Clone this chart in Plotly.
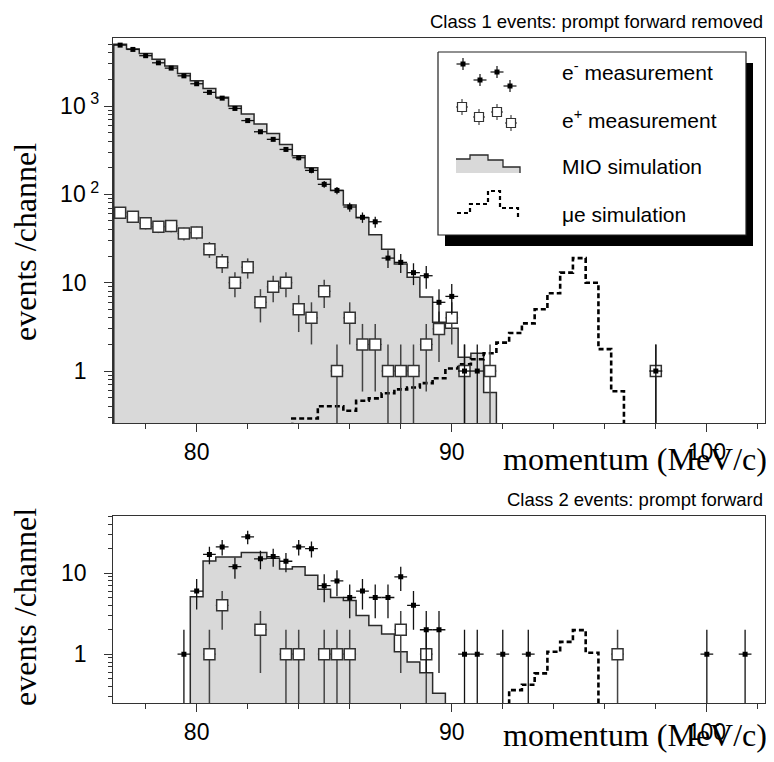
import math
import plotly.graph_objects as go

BIN = 0.5          # channel width, MeV/c
FLOOR = 0.01       # below the visible log range (closes the step outlines)

# ---------------- Class 1 (top panel) ----------------
top_mio_first = 77.0
top_mio = [5000, 4420, 3950, 3400, 2840, 2345, 1935, 1585, 1255, 1005,
           812, 625, 490, 368, 274, 200, 148, 111, 76, 54.5,
           35, 24, 16.3, 11.5, 6.9, 3.56, 3.05, 1.43, 1.59, 0.57]
top_mue_first = 84.0
top_mue = [0.29, 0.29, 0.40, 0.40, 0.355, 0.46, 0.49, 0.56, 0.62, 0.65,
           0.73, 0.83, 1.07, 1.19, 1.36, 1.59, 2.1, 2.7, 3.46, 5.0,
           7.6, 13, 19, 10, 1.77, 0.59]
top_em_x = [77.0, 77.5, 78.0, 78.5, 79.0, 79.5, 80.0, 80.5, 81.0, 81.5,
            82.0, 82.5, 83.0, 83.5, 84.0, 84.5, 85.0, 85.5, 86.0, 86.5,
            87.0, 87.5, 88.0, 88.5, 89.0, 89.5, 90.0, 90.5, 91.0, 98.0]
top_em_y = [4900, 4380, 3720, 3090, 2690, 2200, 1790, 1430, 1230, 940,
            685, 512, 420, 323, 260, 187, 130, 111, 72, 55,
            49, 19, 17, 13, 12, 6, 7, 1, 1, 1]
top_ep_x = [77.0, 77.5, 78.0, 78.5, 79.0, 79.5, 80.0, 80.5, 81.0, 81.5,
            82.0, 82.5, 83.0, 83.5, 84.0, 84.5, 85.0, 85.5, 86.0, 86.5,
            87.0, 87.5, 88.0, 88.5, 89.0, 89.5, 90.0, 90.5, 91.5, 98.0]
top_ep_y = [62, 56, 47, 43, 44, 36, 37, 24, 17, 10,
            15, 6, 9, 10, 5, 4, 8, 1, 4, 2,
            2, 1, 1, 1, 2, 3, 4, 1, 1, 1]

# ---------------- Class 2 (bottom panel) ----------------
bot_mio_first = 80.0
bot_mio = [5.1, 14.1, 15.8, 15.8, 18, 18, 15.2, 11.2, 12, 9.4,
           6.3, 5.0, 4.6, 3.0, 2.26, 1.77, 1.07, 0.8, 0.59, 0.33]
bot_mue_first = 92.5
bot_mue = [0.36, 0.42, 0.58, 1.07, 1.42, 1.98, 1.04]
bot_em_x = [79.5, 80.0, 80.5, 81.0, 81.5, 82.0, 82.5, 83.0, 83.5, 84.0,
            84.5, 85.0, 85.5, 86.0, 86.5, 87.0, 87.5, 88.0, 88.5, 89.0,
            89.5, 90.5, 91.0, 92.0, 93.0, 100.0, 101.5]
bot_em_y = [1, 6, 17, 21, 12, 28, 15, 16, 14, 21,
            20, 7, 8, 5, 6, 5, 5, 9, 4, 2,
            2, 1, 1, 1, 1, 1, 1]
bot_ep_x = [80.5, 81.0, 82.5, 83.5, 84.0, 85.0, 85.5, 86.0, 88.0, 89.0, 96.5]
bot_ep_y = [1, 4, 2, 1, 1, 1, 1, 1, 2, 1, 1]

# ---------------- axis ticks ----------------
x_major = [80, 90, 100]
x_major_text = ["80", "90", "100"]
x_minor = [78, 82, 84, 86, 88, 92, 94, 96, 98, 102]
top_y_major = [1, 10, 100, 1000]
top_y_text = ["1\u00a0\u00a0", "10\u00a0\u00a0", "10\u2009<sup>2</sup>", "10\u2009<sup>3</sup>"]
bot_y_major = [1, 10]
bot_y_text = ["1\u00a0\u00a0", "10\u00a0\u00a0"]

# texts
leg_labels = ["e<sup>-</sup> measurement", "e<sup>+</sup> measurement",
              "MIO simulation", "\u03bce simulation"]
title_top = "Class 1 events: prompt forward removed"
title_bot = "Class 2 events: prompt forward"
x_title = "momentum (MeV/c)"
y_title = "events /channel"

SERIF = "Liberation Serif"
SANS = "Liberation Sans"
FILL = "#d9d9d9"
LINE = "#2a2a2a"

# geometry: the page body has an 8px margin, so the figure is drawn 8px smaller
BODY = 8
W, H = 774 - BODY, 762 - BODY
ML, MR, MT, MB = 113 - BODY, 9, 38 - BODY, 59
PW, PH = W - ML - MR, H - MT - MB
PAGE_L, PAGE_R, PAGE_T, PAGE_B = ML + BODY, ML + BODY + PW, MT + BODY, MT + BODY + PH


def px(xp):        # page pixel -> paper fraction
    return (xp - PAGE_L) / PW


def py(yp):
    return (PAGE_B - yp) / PH


def step_xy(first_center, values):
    edges = [first_center - BIN / 2 + BIN * i for i in range(len(values) + 1)]
    xs = [edges[0]] + edges[:-1] + [edges[-1], edges[-1]]
    ys = [FLOOR] + list(values) + [values[-1], FLOOR]
    return xs, ys


def pois(vals):
    plus = [math.sqrt(v) for v in vals]
    minus = [min(math.sqrt(v), v - 0.001) for v in vals]
    return plus, minus


def minor_log(lo, hi):
    out = []
    for d in range(-1, 4):
        for m in range(2, 10):
            v = m * 10 ** d
            if lo <= v <= hi:
                out.append(v)
    return out


fig = go.Figure()


def add_panel(xa, ya, mio_first, mio, mue_first, mue, em_x, em_y, ep_x, ep_y):
    mx, my = step_xy(mio_first, mio)
    fig.add_trace(go.Scatter(x=mx, y=my, mode="lines", line_shape="hv",
                             fill="toself", fillcolor=FILL,
                             line=dict(color=LINE, width=1.5),
                             xaxis=xa, yaxis=ya, showlegend=False, hoverinfo="skip"))
    ux, uy = step_xy(mue_first, mue)
    fig.add_trace(go.Scatter(x=ux, y=uy, mode="lines", line_shape="hv",
                             line=dict(color="black", width=2.6, dash="5px,3px"),
                             xaxis=xa, yaxis=ya, showlegend=False, hoverinfo="skip"))
    p, m = pois(ep_y)
    fig.add_trace(go.Scatter(x=ep_x, y=ep_y, mode="markers",
                             marker=dict(symbol="square", size=11, color="white",
                                         line=dict(color="#333", width=1.5)),
                             error_y=dict(type="data", array=p, arrayminus=m,
                                          color="#444", thickness=1.5, width=0),
                             error_x=dict(type="constant", value=BIN / 2,
                                          color="#444", thickness=1.2, width=0),
                             xaxis=xa, yaxis=ya, showlegend=False))
    p, m = pois(em_y)
    fig.add_trace(go.Scatter(x=em_x, y=em_y, mode="markers",
                             marker=dict(symbol="square", size=5, color="black"),
                             error_y=dict(type="data", array=p, arrayminus=m,
                                          color="#111", thickness=1.3, width=0),
                             error_x=dict(type="constant", value=BIN / 2,
                                          color="#111", thickness=1.3, width=0),
                             xaxis=xa, yaxis=ya, showlegend=False))


add_panel("x", "y", top_mio_first, top_mio, top_mue_first, top_mue,
          top_em_x, top_em_y, top_ep_x, top_ep_y)
add_panel("x2", "y2", bot_mio_first, bot_mio, bot_mue_first, bot_mue,
          bot_em_x, bot_em_y, bot_ep_x, bot_ep_y)

# ---------------- legend (drawn in a page-pixel overlay axis) ----------------
box = dict(x0=438, x1=746, y0=52, y1=235)
shadow = dict(dx=7, dy=11)
sx0, sx1 = box["x0"] + shadow["dx"], box["x1"] + shadow["dx"]
sy0, sy1 = box["y0"] + shadow["dy"], box["y1"] + shadow["dy"]
fig.add_trace(go.Scatter(
    x=[sx0, sx1, sx1, sx0, sx0], y=[sy0, sy0, sy1, sy1, sy0],
    mode="lines", fill="toself", fillcolor="black", line=dict(color="black", width=0),
    xaxis="x3", yaxis="y3", showlegend=False, hoverinfo="skip"))
fig.add_trace(go.Scatter(
    x=[box["x0"], box["x1"], box["x1"], box["x0"], box["x0"]],
    y=[box["y0"], box["y0"], box["y1"], box["y1"], box["y0"]],
    mode="lines", fill="toself", fillcolor="white", line=dict(color="#222", width=1.2),
    xaxis="x3", yaxis="y3", showlegend=False, hoverinfo="skip"))
# MIO icon
fig.add_trace(go.Scatter(x=[456, 456, 470, 470, 488, 488, 503, 503, 520, 520, 456],
                         y=[173, 159, 159, 155, 155, 160, 160, 167, 167, 173, 173],
                         mode="lines", fill="toself", fillcolor=FILL, line=dict(width=0),
                         xaxis="x3", yaxis="y3", showlegend=False, hoverinfo="skip"))
fig.add_trace(go.Scatter(x=[456, 470, 470, 488, 488, 503, 503, 520, 520],
                         y=[159, 159, 155, 155, 160, 160, 167, 167, 173],
                         mode="lines", line=dict(color=LINE, width=1.3),
                         xaxis="x3", yaxis="y3", showlegend=False, hoverinfo="skip"))
# mu-e icon
fig.add_trace(go.Scatter(x=[457, 470, 470, 488, 488, 500, 500, 518, 518],
                         y=[213, 213, 204, 204, 191, 191, 208, 208, 220],
                         mode="lines", line=dict(color="black", width=2.2, dash="4px,3px"),
                         xaxis="x3", yaxis="y3", showlegend=False, hoverinfo="skip"))
# e+ icon
fig.add_trace(go.Scatter(x=[462, 479, 497, 511], y=[107, 117, 112, 123], mode="markers",
                         marker=dict(symbol="square", size=9, color="white",
                                     line=dict(color="#333", width=1.2)),
                         error_y=dict(type="constant", value=8, color="#444", thickness=1.2, width=0),
                         error_x=dict(type="constant", value=6, color="#444", thickness=1.2, width=0),
                         xaxis="x3", yaxis="y3", showlegend=False, hoverinfo="skip"))
# e- icon
fig.add_trace(go.Scatter(x=[463, 480, 497, 510], y=[64, 80, 72, 86], mode="markers",
                         marker=dict(symbol="square", size=5, color="black"),
                         error_y=dict(type="constant", value=6, color="#111", thickness=1.2, width=0),
                         error_x=dict(type="constant", value=6.5, color="#111", thickness=1.2, width=0),
                         xaxis="x3", yaxis="y3", showlegend=False, hoverinfo="skip"))


def ann(text, xp, yp, xanchor, size, family, angle=0):
    return dict(x=px(xp), y=py(yp), xref="paper", yref="paper", text=text,
                showarrow=False, xanchor=xanchor, yanchor="middle", textangle=angle,
                font=dict(family=family, size=size, color="black"))


annotations = [ann(lab, 560, yy, "left", 21, SANS)
               for lab, yy in zip(leg_labels, [71, 119, 166, 214])]
annotations += [
    ann(title_top, 765, 22, "right", 18.5, SANS),
    ann(title_bot, 765, 499, "right", 18.5, SANS),
    ann(x_title, 769, 459, "right", 32, SERIF),
    ann(x_title, 769, 735, "right", 32, SERIF),
    ann(y_title, 25, 242, "center", 32, SERIF, -90),
    ann(y_title, 25, 607, "center", 32, SERIF, -90),
]

X_RANGE = [76.72, 102.28]
TOP_Y = [math.log10(0.258), math.log10(5900)]
BOT_Y = [math.log10(0.25), math.log10(51)]

common_x = dict(range=X_RANGE, showline=True, mirror=True, linecolor="#333", linewidth=1.3,
                ticks="outside", ticklen=8, tickwidth=1.2, tickcolor="#333",
                tickmode="array", tickvals=x_major, ticktext=x_major_text,
                minor=dict(tickmode="array", tickvals=x_minor, ticks="outside", ticklen=5,
                           tickwidth=1.2, tickcolor="#333", showgrid=False),
                showgrid=False, zeroline=False,
                tickfont=dict(family=SANS, size=23, color="black"))


def y_axis(rng, dom, vals, texts, anchor):
    return dict(type="log", range=rng, domain=dom, anchor=anchor,
                showline=True, mirror=True, linecolor="#333", linewidth=1.3,
                ticks="outside", ticklen=8, tickwidth=1.2, tickcolor="#333",
                tickmode="array", tickvals=vals, ticktext=texts,
                minor=dict(tickmode="array", tickvals=minor_log(10 ** rng[0], 10 ** rng[1]),
                           ticks="outside", ticklen=4, tickwidth=1.1, tickcolor="#333",
                           showgrid=False),
                showgrid=False, zeroline=False,
                tickfont=dict(family=SANS, size=23, color="black"))


fig.update_layout(
    width=W, height=H,
    margin=dict(l=ML, r=MR, t=MT, b=MB),
    paper_bgcolor="white", plot_bgcolor="rgba(0,0,0,0)",
    font=dict(family=SANS, color="black"),
    showlegend=False,
    xaxis=dict(common_x, domain=[0, 1], anchor="y"),
    yaxis=y_axis(TOP_Y, [py(423), 1.0], top_y_major, top_y_text, "x"),
    xaxis2=dict(common_x, domain=[0, 1], anchor="y2"),
    yaxis2=y_axis(BOT_Y, [0.0, py(515.7)], bot_y_major, bot_y_text, "x2"),
    xaxis3=dict(range=[PAGE_L, PAGE_R], domain=[0, 1], anchor="y3", visible=False, fixedrange=True),
    yaxis3=dict(range=[PAGE_B, PAGE_T], domain=[0, 1], anchor="x3", visible=False, fixedrange=True),
    annotations=annotations,
)

fig.write_html("out.html")
